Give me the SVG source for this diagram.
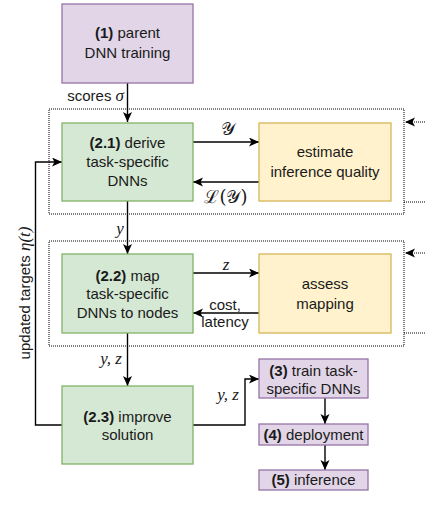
<svg xmlns="http://www.w3.org/2000/svg" width="425" height="508" viewBox="0 0 425 508">
<style>
text{font-family:"Liberation Sans",Arial,sans-serif;font-size:15px;fill:#1a1a1a;text-anchor:middle}
.m{font-family:"Liberation Serif","DejaVu Serif",serif;font-style:italic;font-size:17px}
.s{font-family:"DejaVu Serif","Liberation Serif",serif;font-style:normal;font-size:18px}
.b{font-weight:bold}
.purple{fill:#e1d5e7;stroke:#9673a6;stroke-width:1.3}
.green{fill:#d5e8d4;stroke:#82b366;stroke-width:1.3}
.yellow{fill:#fff2cc;stroke:#d6b656;stroke-width:1.3}
.c{fill:none;stroke:#000;stroke-width:1.4}
.d{fill:none;stroke:#000;stroke-width:1;stroke-dasharray:1 1}
</style>
<defs>
<marker id="ah" markerUnits="userSpaceOnUse" markerWidth="11" markerHeight="10" refX="10" refY="4.5" orient="auto">
<path d="M0,0 L10,4.5 L0,9 L2.5,4.5 Z" fill="#000"/>
</marker>
</defs>
<g id="groups">
<rect class="d" x="49" y="109" width="355" height="105"/>
<rect class="d" x="49" y="241" width="355" height="105"/>
</g>
<g id="connectors">
<path class="c" d="M127.5,83 V122" marker-end="url(#ah)"/>
<path class="c" d="M193,142 H259" marker-end="url(#ah)"/>
<path class="c" d="M259,182 H193" marker-end="url(#ah)"/>
<path class="c" d="M127.5,201 V254" marker-end="url(#ah)"/>
<path class="c" d="M193,273 H259" marker-end="url(#ah)"/>
<path class="c" d="M259,313 H193" marker-end="url(#ah)"/>
<path class="c" d="M127.5,333 V386" marker-end="url(#ah)"/>
<path class="c" d="M62,425 H35.5 V162 H62" marker-end="url(#ah)"/>
<path class="c" d="M193,425 H245 V379 H259" marker-end="url(#ah)"/>
<path class="c" d="M325,398 V424" marker-end="url(#ah)"/>
<path class="c" d="M325,445 V470" marker-end="url(#ah)"/>
<path class="d" d="M425,122 H405" marker-end="url(#ah)"/>
<path class="d" d="M404,202 H425"/>
<path class="d" d="M425,253 H405" marker-end="url(#ah)"/>
<path class="d" d="M404,333 H425"/>
<text x="124" y="101" style="text-anchor:end">scores <tspan class="m">σ</tspan></text>
<text class="s" x="228" y="135">𝒴</text>
<text class="s" x="226" y="203">ℒ(𝒴)</text>
<text class="m" x="120" y="234">y</text>
<text class="m" x="226" y="270">z</text>
<text x="225" y="310">cost,</text>
<text x="225" y="327">latency</text>
<text class="m" x="111" y="364">y, z</text>
<text class="m" x="228" y="400">y, z</text>
<text x="0" y="0" transform="translate(30,293) rotate(-90)">updated targets <tspan class="m">η</tspan><tspan class="m">(t)</tspan></text>
</g>
<g id="n1">
<rect class="purple" x="62" y="4" width="131" height="79"/>
<text x="127.5" y="38"><tspan class="b">(1)</tspan> parent</text>
<text x="127.5" y="58">DNN training</text>
</g>
<g id="n21">
<rect class="green" x="62" y="123" width="131" height="78"/>
<text x="127.5" y="148"><tspan class="b">(2.1)</tspan> derive</text>
<text x="127.5" y="167">task-specific</text>
<text x="127.5" y="186">DNNs</text>
</g>
<g id="nest">
<rect class="yellow" x="259" y="123" width="132" height="78"/>
<text x="325" y="157">estimate</text>
<text x="325" y="177">inference quality</text>
</g>
<g id="n22">
<rect class="green" x="62" y="254" width="131" height="79"/>
<text x="127.5" y="281"><tspan class="b">(2.2)</tspan> map</text>
<text x="127.5" y="299">task-specific</text>
<text x="127.5" y="318">DNNs to nodes</text>
</g>
<g id="nassess">
<rect class="yellow" x="259" y="254" width="132" height="79"/>
<text x="325" y="289">assess</text>
<text x="325" y="309">mapping</text>
</g>
<g id="n23">
<rect class="green" x="62" y="386" width="131" height="78"/>
<text x="127.5" y="422"><tspan class="b">(2.3)</tspan> improve</text>
<text x="127.5" y="440">solution</text>
</g>
<g id="n3">
<rect class="purple" x="259" y="359" width="109" height="39"/>
<text x="313.5" y="376"><tspan class="b">(3)</tspan> train task-</text>
<text x="313.5" y="394">specific DNNs</text>
</g>
<g id="n4">
<rect class="purple" x="259" y="424" width="109" height="21"/>
<text x="313.5" y="440"><tspan class="b">(4)</tspan> deployment</text>
</g>
<g id="n5">
<rect class="purple" x="259" y="470" width="109" height="20"/>
<text x="313.5" y="485"><tspan class="b">(5)</tspan> inference</text>
</g>
</svg>
